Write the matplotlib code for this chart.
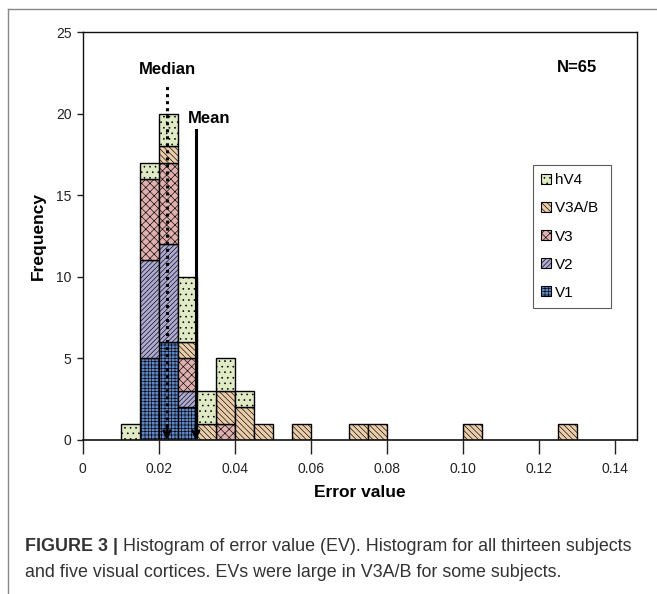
import matplotlib
matplotlib.use("Agg")
import matplotlib.pyplot as plt
from matplotlib.lines import Line2D
from matplotlib.patches import Patch
import numpy as np

plt.rcParams['font.family'] = ['Liberation Sans', 'DejaVu Sans']
plt.rcParams['hatch.linewidth'] = 0.45

# ---- data ----
bin_left = [0.010, 0.015, 0.020, 0.025, 0.030, 0.035, 0.040, 0.045, 0.055, 0.070, 0.075, 0.100, 0.125]
bin_width = 0.005
series_names = ["V1", "V2", "V3", "V3A/B", "hV4"]
v1   = [0, 5, 6, 2, 0, 0, 0, 0, 0, 0, 0, 0, 0]
v2   = [0, 6, 6, 1, 0, 0, 0, 0, 0, 0, 0, 0, 0]
v3   = [0, 5, 5, 2, 0, 1, 0, 0, 0, 0, 0, 0, 0]
v3ab = [0, 0, 1, 1, 1, 2, 2, 1, 1, 1, 1, 1, 1]
hv4  = [1, 1, 2, 4, 2, 2, 1, 0, 0, 0, 0, 0, 0]
median_value = 0.0222
mean_value = 0.0298
n_total = 65
x_ticks = [0, 0.02, 0.04, 0.06, 0.08, 0.10, 0.12, 0.14]
x_tick_labels = ["0", "0.02", "0.04", "0.06", "0.08", "0.10", "0.12", "0.14"]
y_ticks = [0, 5, 10, 15, 20, 25]

colors = ["#5f86c6", "#aeaad2", "#e0b0ae", "#ebcdaa", "#e0ebc6"]
hatches = ["+++++", "///////", "xxxx", "\\\\\\\\\\\\", "..."]

fig = plt.figure(figsize=(6.57, 5.94), dpi=100)
ax = fig.add_axes([0.1256, 0.2593, 0.9696 - 0.1256, 0.9461 - 0.2593])

series = [v1, v2, v3, v3ab, hv4]
bottom = np.zeros(len(bin_left))
handles = []
for name, vals, c, h in zip(series_names, series, colors, hatches):
    vals = np.array(vals, dtype=float)
    mask = vals > 0
    ax.bar(np.array(bin_left)[mask], vals[mask], width=bin_width, bottom=bottom[mask],
           align='edge', color=c, edgecolor='black', linewidth=1.0, hatch=h, zorder=2)
    bottom += vals
    handles.append(Patch(facecolor=c, edgecolor='black', hatch=h, linewidth=0.8,
                         label=name + (" " if name == "V3A/B" else "")))

ax.set_xlim(0, 0.1458)
ax.set_ylim(0, 25)
ax.set_xticks(x_ticks)
ax.set_xticklabels(x_tick_labels)
ax.set_yticks(y_ticks)
ax.tick_params(axis='x', direction='out', length=10, width=1.0, labelsize=10, pad=6, colors='#222222')
ax.tick_params(axis='y', direction='out', length=4, width=1.0, labelsize=10, pad=4, colors='#222222')
for s in ax.spines.values():
    s.set_linewidth(1.0)
    s.set_color('#111111')
ax.spines['bottom'].set_linewidth(1.2)

ax.set_xlabel("Error value", fontsize=12.5, fontweight='bold', labelpad=6)
ax.set_ylabel("Frequency", fontsize=12.5, fontweight='bold', labelpad=7)

# median (dotted) and mean (solid) arrows
med_top = 21.75
mean_top = 19.0
ax.plot([median_value, median_value], [0.35, med_top], color='black', lw=2.2,
        linestyle=(0, (1, 1.3)), zorder=4)
ax.annotate('', xy=(median_value, 0.0), xytext=(median_value, 0.9),
            arrowprops=dict(arrowstyle='->', lw=1.8, color='black',
                            mutation_scale=12, shrinkA=0, shrinkB=0), zorder=4)
ax.plot([mean_value, mean_value], [0.35, mean_top], color='black', lw=2.2, zorder=4)
ax.annotate('', xy=(mean_value, 0.0), xytext=(mean_value, 0.9),
            arrowprops=dict(arrowstyle='->', lw=1.8, color='black',
                            mutation_scale=12, shrinkA=0, shrinkB=0), zorder=4)
ax.text(median_value, 22.73, "Median", ha='center', va='center', fontsize=12, fontweight='bold')
ax.text(0.0333, 19.73, "Mean", ha='center', va='center', fontsize=12, fontweight='bold')
ax.text(0.130, 22.8, f"N={n_total}", ha='center', va='center', fontsize=12, fontweight='bold')

leg = ax.legend(handles=handles[::-1], loc='upper left',
                bbox_to_anchor=((533 - 82.5) / (637 - 82.5), 1 - (165 - 32) / 408),
                frameon=True, fancybox=False, shadow=False, fontsize=11,
                handlelength=0.6, handleheight=0.6, handletextpad=0.3,
                labelspacing=0.92, borderpad=0.55, borderaxespad=0)
leg.get_frame().set_edgecolor('#333333')
leg.get_frame().set_linewidth(0.8)

# outer frame lines (top and left)
fig.add_artist(Line2D([8 / 657, 1.0], [1 - 9 / 594, 1 - 9 / 594], color='#888888', lw=1.0))
fig.add_artist(Line2D([8 / 657, 8 / 657], [0.0, 1 - 9 / 594], color='#888888', lw=1.0))

# caption
cap_color = '#333333'
cap_size = 12.85
t1 = fig.text(25 / 657, 1 - 551 / 594, "FIGURE 3 |", fontsize=cap_size, fontweight='bold',
              color=cap_color, ha='left', va='baseline')
ax.annotate(" Histogram of error value (EV). Histogram for all thirteen subjects",
            xy=(1, 0), xycoords=t1, xytext=(0, 0), textcoords='offset points',
            ha='left', va='bottom', fontsize=cap_size, color=cap_color, annotation_clip=False)
fig.text(25 / 657, 1 - 577 / 594,
         "and five visual cortices. EVs were large in V3A/B for some subjects.",
         fontsize=cap_size, color=cap_color, ha='left', va='baseline')

fig.savefig("out.png", dpi=100)
